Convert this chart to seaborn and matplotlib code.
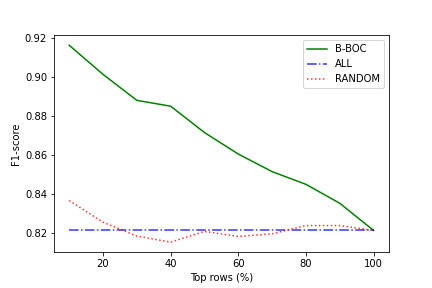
import matplotlib
matplotlib.use("Agg")
import matplotlib.pyplot as plt
import seaborn as sns
import pandas as pd

top_rows = [10, 20, 30, 40, 50, 60, 70, 80, 90, 100]
bboc = [0.9162, 0.9013, 0.8880, 0.8850, 0.8715, 0.8605, 0.8515, 0.8450, 0.8353, 0.8214]
all_f1 = [0.8214] * 10
random_f1 = [0.8367, 0.8256, 0.8185, 0.8154, 0.8209, 0.8183, 0.8197, 0.8239, 0.8239, 0.8214]

fig, ax = plt.subplots(figsize=(6, 4), dpi=72)
fig.subplots_adjust(bottom=0.125, top=0.877)
sns.lineplot(x=top_rows, y=bboc, ax=ax, color="green", linestyle="-", label="B-BOC")
sns.lineplot(x=top_rows, y=all_f1, ax=ax, color="blue", linestyle="-.", alpha=0.8, label="ALL")
sns.lineplot(x=top_rows, y=random_f1, ax=ax, color="red", linestyle=":", alpha=0.8, label="RANDOM")
ax.set_xlabel("Top rows (%)")
ax.set_ylabel("F1-score")
ax.legend(loc="upper right")
fig.savefig("out.png", dpi=72)
